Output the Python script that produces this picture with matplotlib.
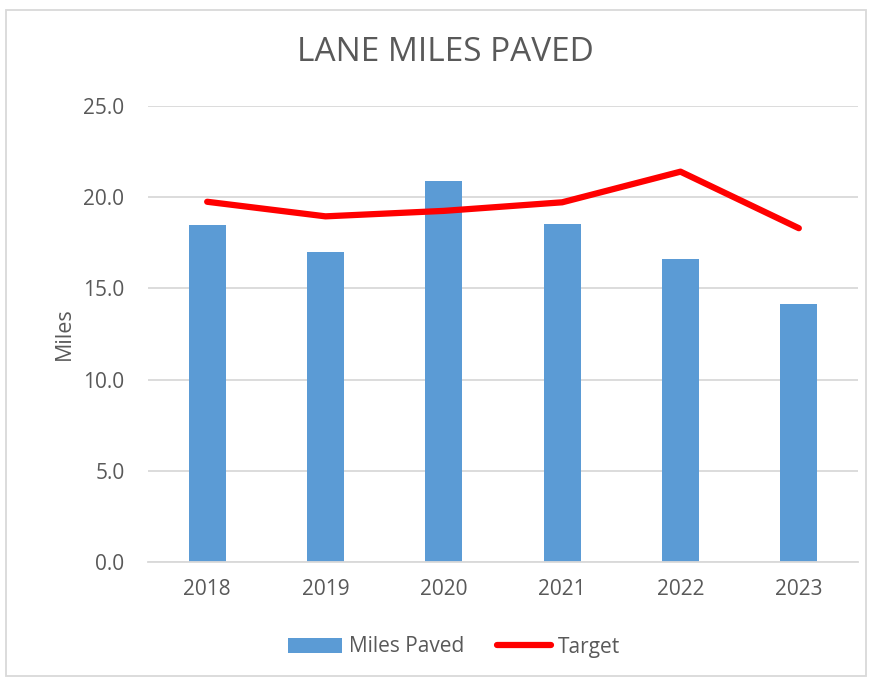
import matplotlib.pyplot as plt
from matplotlib.patches import Rectangle
import numpy as np

plt.rcParams['font.family'] = ['Open Sans', 'DejaVu Sans']

years = ["2018", "2019", "2020", "2021", "2022", "2023"]
miles_paved = [18.5, 17.0, 20.9, 18.55, 16.6, 14.15]
target = [19.75, 18.95, 19.25, 19.72, 21.4, 18.3]
y_ticks = [0, 5, 10, 15, 20, 25]

text_col = "#595959"
grid_col = "#D9D9D9"

fig = plt.figure(figsize=(8.73, 6.79), dpi=100)
ax = fig.add_axes([148/873, 1 - 562/679, 710/873, 456/679])

x = np.arange(len(years))
bars = ax.bar(x, miles_paved, width=0.31, color="#5B9BD5", label="Miles Paved", zorder=2)
line, = ax.plot(x, target, color="#FF0000", lw=4.5, solid_capstyle="round",
                solid_joinstyle="round", label="Target", zorder=3)

ax.set_xlim(-0.5, len(years) - 0.5)
ax.set_ylim(0, 25)
ax.set_yticks(y_ticks)
ax.set_yticklabels([f"{v:.1f}" for v in y_ticks])
ax.set_xticks(x)
ax.set_xticklabels(years)
ax.tick_params(length=0, labelsize=15, colors=text_col, pad=12)
ax.tick_params(axis="y", pad=17)
ax.yaxis.grid(True, color=grid_col, lw=1.3, zorder=0)
for side in ["top", "right", "left"]:
    ax.spines[side].set_visible(False)
ax.spines["bottom"].set_color(grid_col)
ax.spines["bottom"].set_linewidth(1.3)

ax.set_ylabel("Miles", fontsize=15.5, color=text_col, labelpad=6)

fig.text(0.51, 0.922, "LANE MILES PAVED", ha="center", va="center",
         fontsize=24, color=text_col)

fig.legend([bars, line], ["Miles Paved", "Target"], loc="center",
           bbox_to_anchor=(0.52, 1 - 647/679), ncol=2,
           frameon=False, fontsize=15, labelcolor=text_col,
           handlelength=2.6, handletextpad=0.3, columnspacing=1.6)

fig.patches.append(Rectangle((6/873, 3/679), 860/873, 666/679, transform=fig.transFigure,
                             fill=False, edgecolor=grid_col, lw=1.3))

fig.savefig("out.png", dpi=100)
